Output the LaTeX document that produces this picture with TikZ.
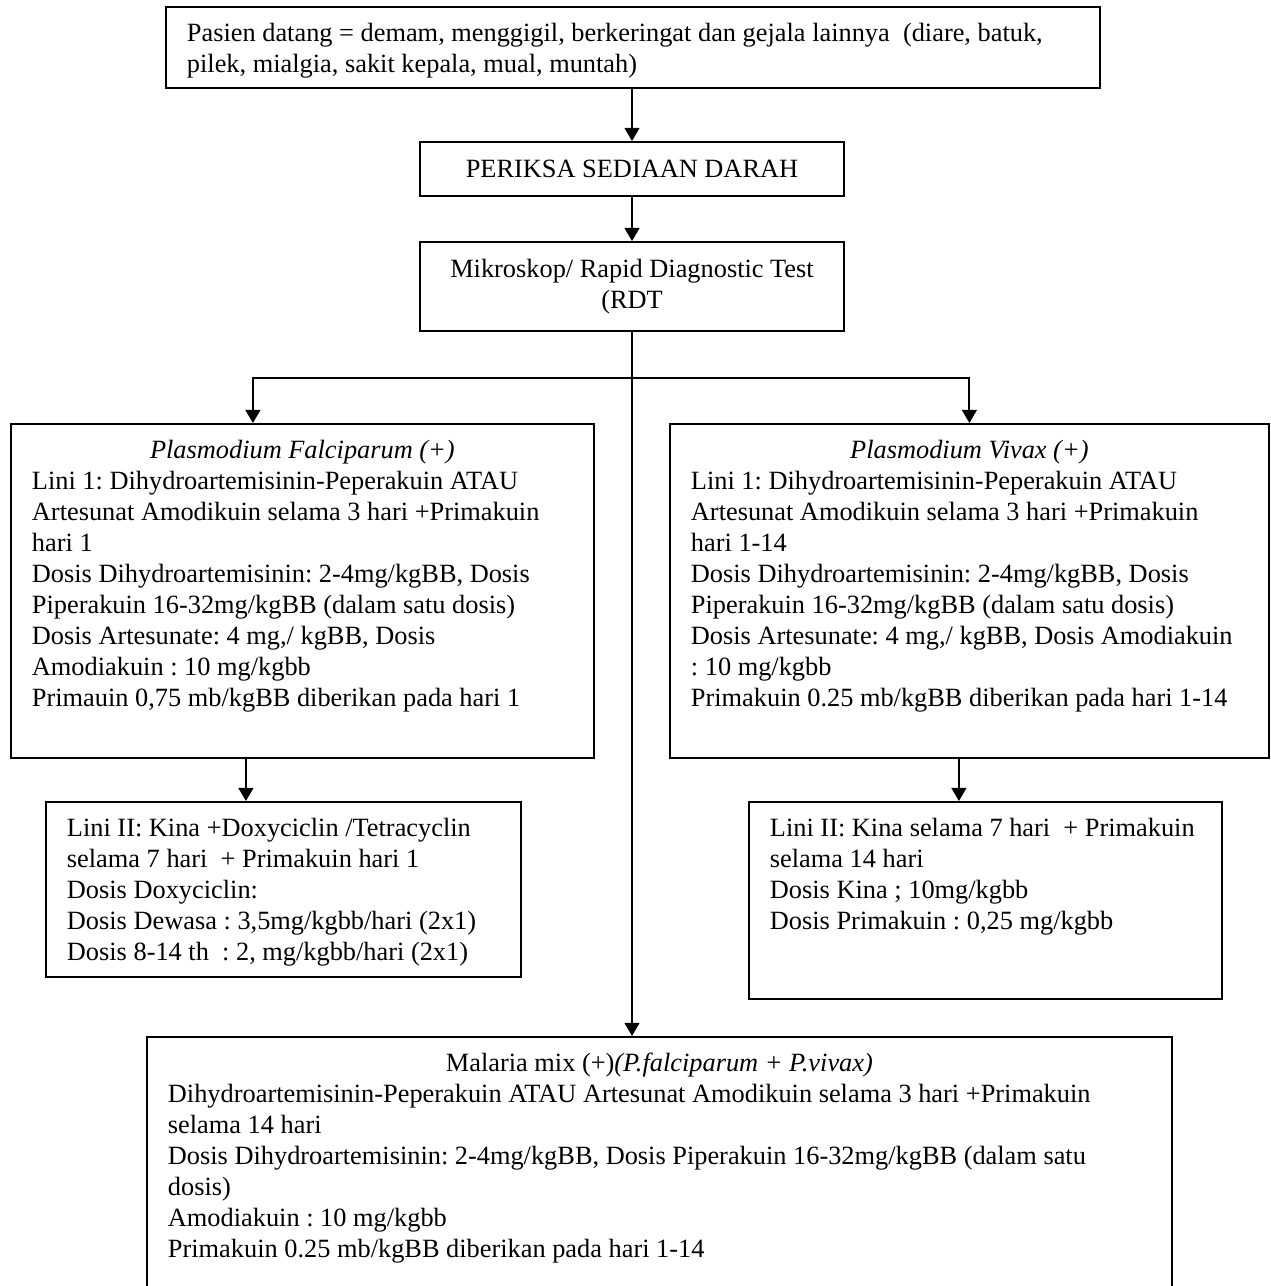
\documentclass[tikz,border=0pt]{standalone}
\usepackage{fontspec}
\setmainfont{Liberation Serif}
\usetikzlibrary{arrows.meta}
\frenchspacing
\hyphenpenalty=10000
\exhyphenpenalty=10000

\begin{document}
\begin{tikzpicture}[x=0.02cm, y=-0.02cm,
    box/.style={draw, line width=1.1pt, anchor=north west, align=flush left,
        inner xsep=0.42cm, inner ysep=0.28cm, text height=0.42cm,
        font=\fontsize{15}{17.6}\selectfont},
    plainbox/.style={draw, line width=1.1pt, align=center, inner sep=0pt,
        font=\fontsize{15}{17.6}\selectfont},
    link/.style={line width=1.1pt, -{Triangle[length=7.5pt,width=8.5pt]}},
    bus/.style={line width=1.1pt}]
    \useasboundingbox (0,0) rectangle (1271,1286);
    \clip (0,0) rectangle (1271,1286);

    % gejala dan pemeriksaan
    \node[box, text width=17.84cm, text depth=0.64cm] (pasien) at (165,6)
        {Pasien datang = demam, menggigil, berkeringat dan gejala lainnya~ (diare, batuk,\\
         pilek, mialgia, sakit kepala, mual, muntah)};
    \node[plainbox, minimum width=8.48cm, minimum height=1.08cm] (periksa) at (632,169)
        {PERIKSA SEDIAAN DARAH};
    \node[plainbox, minimum width=8.48cm, minimum height=1.78cm] (mikro) at (632,286.5)
        {Mikroskop/ Rapid Diagnostic Test\\(RDT};

    % lini 1
    \node[box, text width=10.82cm, text depth=5.70cm] (pf) at (10,423)
        {{\centering\textit{Plasmodium Falciparum (+)}\par}
         Lini 1: Dihydroartemisinin-Peperakuin ATAU\\
         Artesunat Amodikuin selama 3 hari +Primakuin\\
         hari 1\\
         Dosis Dihydroartemisinin: 2-4mg/kgBB, Dosis\\
         Piperakuin 16-32mg/kgBB (dalam satu dosis)\\
         Dosis Artesunate: 4 mg,/ kgBB, Dosis\\
         Amodiakuin : 10 mg/kgbb\\
         Primauin 0,75 mb/kgBB diberikan pada hari 1};
    \node[box, text width=11.14cm, text depth=5.70cm] (pv) at (669,423)
        {{\centering\textit{Plasmodium Vivax (+)}\par}
         Lini 1: Dihydroartemisinin-Peperakuin ATAU\\
         Artesunat Amodikuin selama 3 hari +Primakuin\\
         hari 1-14\\
         Dosis Dihydroartemisinin: 2-4mg/kgBB, Dosis\\
         Piperakuin 16-32mg/kgBB (dalam satu dosis)\\
         Dosis Artesunate: 4 mg,/ kgBB, Dosis Amodiakuin\\
         : 10 mg/kgbb\\
         Primakuin 0.25 mb/kgBB diberikan pada hari 1-14};

    % lini 2
    \node[box, text width=8.66cm, text depth=2.52cm] (pf2) at (45,801)
        {Lini II: Kina +Doxyciclin /Tetracyclin\\
         selama 7 hari~ + Primakuin hari 1\\
         Dosis Doxyciclin:\\
         Dosis Dewasa : 3,5mg/kgbb/hari (2x1)\\
         Dosis 8-14 th~ : 2, mg/kgbb/hari (2x1)};
    \node[box, text width=8.62cm, text depth=2.96cm] (pv2) at (748,801)
        {Lini II: Kina selama 7 hari~ + Primakuin\\
         selama 14 hari\\
         Dosis Kina ; 10mg/kgbb\\
         Dosis Primakuin : 0,25 mg/kgbb};

    % campuran
    \node[box, text width=19.66cm, text depth=5cm] (mix) at (146,1036)
        {{\centering Malaria mix (+)\textit{(P.falciparum + P.vivax)}\par}
         Dihydroartemisinin-Peperakuin ATAU Artesunat Amodikuin selama 3 hari +Primakuin\\
         selama 14 hari\\
         Dosis Dihydroartemisinin: 2-4mg/kgBB, Dosis Piperakuin 16-32mg/kgBB (dalam satu\\
         dosis)\\
         Amodiakuin : 10 mg/kgbb\\
         Primakuin 0.25 mb/kgBB diberikan pada hari 1-14};

    \draw[link] (pasien.south -| periksa.north) -- (periksa.north);
    \draw[link] (periksa) -- (mikro);

    \coordinate (split) at (mikro.south |- 0,378);
    \coordinate (pfin) at ([xshift=-0.99cm]pf.north);
    \coordinate (pfout) at ([xshift=-1.13cm]pf.south);
    \coordinate (pvout) at ([xshift=-0.21cm]pv.south);

    \draw[bus] (mikro.south) -- (split);
    \draw[link] (split) -| (pfin);
    \draw[link] (split) -| (pv.north);
    \draw[link] (split) -- (split |- mix.north);
    \draw[link] (pfout) -- (pfout |- pf2.north);
    \draw[link] (pvout) -- (pvout |- pv2.north);
\end{tikzpicture}
\end{document}
